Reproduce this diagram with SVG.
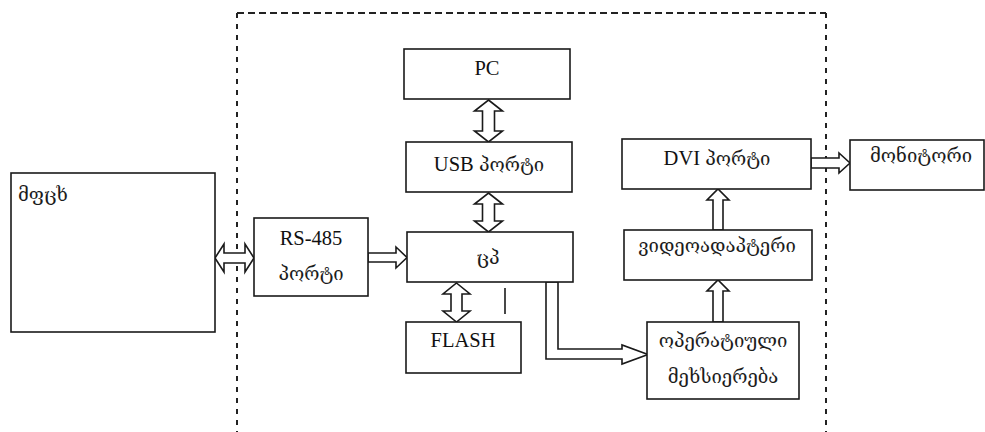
<svg xmlns="http://www.w3.org/2000/svg" width="985" height="432" viewBox="0 0 985 432">
  <style>
    .box { fill: #ffffff; stroke: #1a1a1a; stroke-width: 1.6; }
    .arrow { fill: #ffffff; stroke: #1a1a1a; stroke-width: 1.6; stroke-linejoin: miter; }
    .border { fill: none; stroke: #222222; stroke-width: 2; }
    .lbl { font-family: "Liberation Serif", "DejaVu Serif", serif; font-size: 20.5px; fill: #111111; }
    .ka { font-family: "DejaVu Serif", serif; font-size: 18.5px; fill: #1c1c1c; }
    .mid { text-anchor: middle; }
  </style>
  <rect width="985" height="432" fill="#ffffff"/>

  <!-- dashed device boundary (open at the bottom) -->
  <g id="boundary">
    <line class="border" x1="237" y1="13" x2="826" y2="13" stroke-dasharray="7 4"/>
    <line class="border" x1="237" y1="13" x2="237" y2="432" stroke-dasharray="5 6"/>
    <line class="border" x1="826" y1="13" x2="826" y2="432" stroke-dasharray="5 6"/>
  </g>

  <!-- connectors: hollow block arrows -->
  <g id="connectors">
    <!-- sensor <-> RS-485 -->
    <polygon class="arrow" points="215,258 224,244 224,253 245,253 245,244 254,258 245,272 245,263 224,263 224,272"/>
    <!-- RS-485 -> CPU -->
    <polygon class="arrow" points="368,253 396,253 396,247 407,257.5 396,268 396,262 368,262"/>
    <!-- PC <-> USB -->
    <polygon class="arrow" points="488.5,100 502.5,111 494.5,111 494.5,131 502.5,131 488.5,142 474.5,131 482.5,131 482.5,111 474.5,111"/>
    <!-- USB <-> CPU -->
    <polygon class="arrow" points="488.5,193 502.5,204 494.5,204 494.5,221 502.5,221 488.5,232 474.5,221 482.5,221 482.5,204 474.5,204"/>
    <!-- CPU <-> FLASH -->
    <polygon class="arrow" points="456.5,283 470,294 462,294 462,311 470,311 456.5,322 443,311 451,311 451,294 443,294"/>
    <!-- CPU -> RAM -->
    <polygon class="arrow" points="546,282 558,282 558,349 622,349 622,345 648,354.5 622,364 622,359 546,359"/>
    <!-- RAM -> video adapter -->
    <polygon class="arrow" points="713,322 713,291 707,291 718,280 729,291 723,291 723,322"/>
    <!-- video adapter -> DVI -->
    <polygon class="arrow" points="713,230 713,200 707,200 718,189 729,200 723,200 723,230"/>
    <!-- DVI -> monitor -->
    <polygon class="arrow" points="811,158 839,158 839,153 850,163 839,173 839,168 811,168"/>
    <!-- short tick below CPU -->
    <line x1="505" y1="288" x2="505" y2="314" stroke="#1a1a1a" stroke-width="1.6"/>
  </g>

  <g id="sensor">
    <rect class="box" x="11" y="173" width="204" height="159"/>
    <text class="ka" x="18" y="201">მფცხ</text>
  </g>

  <g id="rs485">
    <rect class="box" x="254" y="218" width="114" height="78"/>
    <text class="lbl mid" x="311" y="245">RS-485</text>
    <text class="ka mid" x="311" y="280">პორტი</text>
  </g>

  <g id="pc">
    <rect class="box" x="404" y="49" width="166" height="50"/>
    <text class="lbl mid" x="487" y="75">PC</text>
  </g>

  <g id="usb">
    <rect class="box" x="406" y="142" width="166" height="50"/>
    <text class="lbl mid" x="489" y="171">USB <tspan class="ka">პორტი</tspan></text>
  </g>

  <g id="cpu">
    <rect class="box" x="407" y="232" width="166" height="50"/>
    <text class="ka mid" x="488" y="264">ცპ</text>
  </g>

  <g id="flash">
    <rect class="box" x="406" y="322" width="115" height="51"/>
    <text class="lbl mid" x="463" y="347">FLASH</text>
  </g>

  <g id="dvi">
    <rect class="box" x="622" y="139" width="189" height="50"/>
    <text class="lbl mid" x="717" y="165">DVI <tspan class="ka">პორტი</tspan></text>
  </g>

  <g id="video">
    <rect class="box" x="624" y="230" width="188" height="50"/>
    <text class="ka mid" x="717" y="252">ვიდეოადაპტერი</text>
  </g>

  <g id="ram">
    <rect class="box" x="647" y="322" width="152" height="77"/>
    <text class="ka mid" x="723" y="347">ოპერატიული</text>
    <text class="ka mid" x="723" y="383">მეხსიერება</text>
  </g>

  <g id="monitor">
    <rect class="box" x="850" y="140" width="134" height="50"/>
    <text class="ka" x="870" y="162">მონიტორი</text>
  </g>
</svg>
